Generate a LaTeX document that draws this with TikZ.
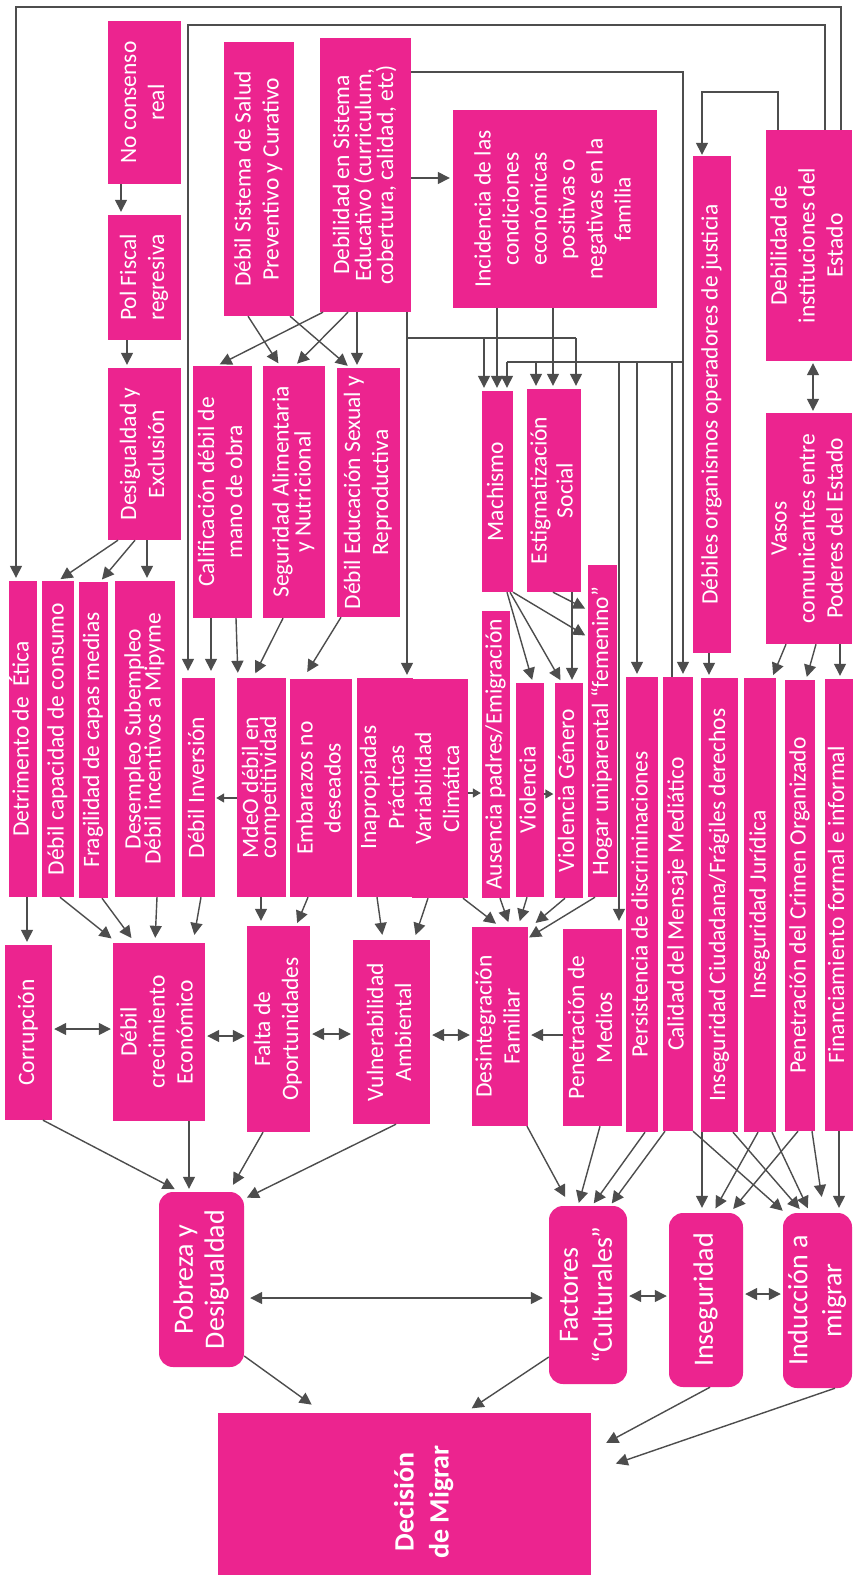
\documentclass[tikz,border=0pt]{standalone}
\usepackage{fontspec}
\usepackage{graphicx}
\setmainfont{Carlito}
\usetikzlibrary{arrows.meta}
\definecolor{pk}{RGB}{236,36,143}
\definecolor{lnc}{RGB}{77,77,77}
\newcommand\BX[7][]{\node[box,minimum width={(#5-#3)*1pt},minimum height={(#6-#4)*1pt},#1] (#2) at ({(#3+#5)/2},{(#4+#6)/2}) {\rotatebox{90}{\begin{tabular}{@{}c@{}}#7\end{tabular}}};}
\begin{document}
\begin{tikzpicture}[x=1pt,y=-1pt,
 box/.style={rectangle,fill=pk,inner sep=0pt,text=white,font=\fontsize{23.5}{28}\selectfont},
 rbox/.style={rounded corners=14pt,font=\fontsize{28}{34}\selectfont},
 arr/.style={draw=lnc,line width=1.4pt,shorten >=3pt,-{Triangle[length=12pt,width=12pt]}},
 sarr/.style={draw=lnc,line width=1.4pt,shorten >=1pt,-{Triangle[length=8pt,width=9pt]}},
 darr/.style={draw=lnc,line width=1.4pt,shorten >=2pt,shorten <=2pt,{Triangle[length=12pt,width=12pt]}-{Triangle[length=12pt,width=12pt]}},
 plain/.style={draw=lnc,line width=1.4pt}]
\fill[white] (0,0) rectangle (855,1575);
\useasboundingbox (0,0) rectangle (855,1575);
% boxes
\BX{nocons}{108}{21}{181}{184}{No consenso\\real}
\BX{polfis}{108}{215}{181}{340}{Pol Fiscal\\regresiva}
\BX{desig}{108}{368}{181}{540}{Desigualdad y\\Exclusión}
\BX{salud}{224}{42}{294}{316}{Débil Sistema de Salud\\Preventivo y Curativo}
\BX{educ}{320}{38}{411}{312}{Debilidad en Sistema\\[-6pt]Educativo (curriculum,\\[-6pt]cobertura, calidad, etc)}
\BX{incid}{453}{110}{657}{308}{Incidencia de las\\condiciones\\económicas\\positivas o\\negativas en la\\familia}
\BX{debinst}{766}{130}{852}{361}{Debilidad de\\instituciones del\\Estado}
\BX{debjust}{693}{156}{731}{653}{Débiles organismos operadores de justicia}
\BX{vasos}{766}{413}{852}{644}{Vasos\\comunicantes entre\\Poderes del Estado}
\BX{calif}{193}{366}{252}{618}{Calificación débil de\\mano de obra}
\BX{segal}{263}{366}{325}{618}{Seguridad Alimentaria\\[-6pt]y Nutricional}
\BX{edsex}{337}{368}{400}{617}{Débil Educación Sexual y\\Reproductiva}
\BX{mach}{482}{391}{513}{592}{Machismo}
\BX{estig}{529}{389}{579}{592}{Estigmatización\\[-2pt]Social}
\BX{detr}{9}{581}{37}{897}{Detrimento de\ \ Ética}
\BX{capcons}{42}{581}{74}{897}{Débil capacidad de consumo}
\BX{frag}{79}{582}{108}{898}{Fragilidad de capas medias}
\BX{desemp}{115}{581}{175}{897}{Desempleo Subempleo\\[-8pt]Débil incentivos a Mipyme}
\BX{inver}{182}{678}{215}{897}{Débil Inversión}
\BX{mdeo}{237}{678}{286}{897}{MdeO débil en\\[-10pt]competitividad}
\BX{embar}{290}{679}{352}{897}{Embarazos no\\deseados}
\BX{inap}{357}{678}{412}{897}{Inapropiadas\\Prácticas}
\BX{varcl}{414}{679}{465}{898}{Variabilidad\\Climática}
\BX{ausen}{482}{611}{510}{898}{Ausencia padres/Emigración}
\BX{viol}{517}{683}{543}{897}{Violencia}
\BX{violg}{556}{683}{581}{898}{Violencia Género}
\BX{hogar}{588}{565}{617}{897}{Hogar uniparental “femenino”}
\BX{persis}{626}{677}{658}{1132}{Persistencia de discriminaciones}
\BX{calid}{663}{677}{693}{1131}{Calidad del Mensaje Mediático}
\BX{insciu}{701}{678}{738}{1132}{Inseguridad Ciudadana/Frágiles derechos}
\BX{insjur}{744}{678}{776}{1132}{Inseguridad Jurídica}
\BX{crimen}{785}{680}{815}{1131}{Penetración del Crimen Organizado}
\BX{financ}{825}{679}{852}{1131}{Financiamiento formal e informal}
\BX{corrup}{5}{945}{52}{1120}{Corrupción}
\BX{debcrec}{113}{943}{205}{1121}{Débil\\crecimiento\\Económico}
\BX{falta}{247}{926}{310}{1132}{Falta de\\Oportunidades}
\BX{vuln}{353}{940}{430}{1124}{Vulnerabilidad\\Ambiental}
\BX{desint}{473}{927}{527}{1126}{Desintegración\\Familiar}
\BX{penmed}{563}{929}{622}{1126}{Penetración de\\Medios}
\BX[rbox]{pobreza}{159}{1192}{244}{1367}{Pobreza y\\[-3pt]Desigualdad}
\BX[rbox]{factores}{549}{1206}{627}{1384}{Factores\\“Culturales”}
\BX[rbox]{inseg}{669}{1213}{743}{1387}{Inseguridad}
\BX[rbox]{induc}{783}{1213}{852}{1388}{Inducción a\\migrar}
\BX{decis}{218}{1413}{591}{1575}{}
\node[text=white,inner sep=0pt,font=\fontsize{28}{35}\selectfont\bfseries] (dectxt) at (424,1502) {\rotatebox{90}{\begin{tabular}{@{}c@{}}Decisión\\de Migrar\end{tabular}}};
% long lines from the top
\draw[arr] (debinst.north -| 841,0) -- (841,7) -- (16,7) -- (detr.north -| 16,0);
\draw[arr,shorten >=7pt] (debinst.north -| 825,0) -- (825,25) -- (188,25) -- (inver.north -| 188,0);
\draw[arr,shorten >=1pt] (debinst.north -| 778,0) -- (778,92) -- (702,92) -- (debjust.north -| 702,0);
\draw[darr] (debinst.south -| 813,0) -- (vasos.north -| 813,0);
\draw[arr] (debjust.south -| 709,0) -- (insciu.north -| 709,0);
\draw[arr] (vasos.south -| 786,0) -- (insjur.north -| 772,0);
\draw[arr] (vasos.south -| 816,0) -- (crimen.north -| 806,0);
\draw[arr] (vasos.south -| 840,0) -- (financ.north -| 840,0);
% education system
\draw[arr] (educ.east |- 0,178) -- (incid.west |- 0,178);
\draw[arr] (educ.east |- 0,72) -- (683,72) -- (calid.north -| 683,0);
\coordinate (b1) at (683,362);
\draw[plain] (b1) -- (b1 -| 507,0);
\draw[arr] (b1 -| 507,0) -- (mach.north -| 507,0);
\draw[arr] (b1 -| 536,0) -- (estig.north -| 536,0);
\draw[arr,shorten >=8pt] (b1 -| 619,0) -- (penmed.north -| 619,0);
\draw[arr] (b1 -| 637,0) -- (persis.north -| 637,0);
\draw[plain] (b1 -| 672,0) -- (calid.north -| 672,0);
\coordinate (b2) at (407,338);
\draw[arr] (educ.south -| 407,0) -- (inap.north -| 407,0);
\draw[plain] (b2) -- (b2 -| 576,0);
\draw[arr] (b2 -| 484,0) -- (mach.north -| 484,0);
\draw[arr] (b2 -| 576,0) -- (estig.north -| 576,0);
\draw[arr] (incid.south -| 497,0) -- (mach.north -| 497,0);
\draw[arr] (incid.south -| 553,0) -- (estig.north -| 553,0);
% upper left
\draw[arr] (nocons.south -| 121,0) -- (polfis.north -| 121,0);
\draw[arr] (polfis.south -| 127,0) -- (desig.north -| 127,0);
\draw[arr] (salud.south -| 248,0) -- (segal.north -| 280,0);
\draw[arr] (salud.south -| 290,0) -- (edsex.north -| 350,0);
\draw[arr] (educ.south -| 323,0) -- (calif.north -| 217,0);
\draw[arr] (educ.south -| 348,0) -- (segal.north -| 295,0);
\draw[arr] (educ.south -| 357,0) -- (edsex.north -| 357,0);
\draw[arr] (desig.south -| 118,0) -- (capcons.north -| 58,0);
\draw[arr] (desig.south -| 135,0) -- (frag.north -| 100,0);
\draw[arr] (desig.south -| 147,0) -- (desemp.north -| 147,0);
\draw[arr,shorten >=7pt] (calif.south -| 211,0) -- (inver.north -| 211,0);
\draw[arr,shorten >=5pt] (calif.south -| 236,0) -- (mdeo.north -| 238,0);
\draw[arr,shorten >=5pt] (segal.south -| 283,0) -- (mdeo.north -| 253,0);
\draw[arr,shorten >=8pt] (edsex.south -| 341,0) -- (embar.north -| 303,0);
\draw[sarr] (mdeo.west |- 0,798) -- (inver.east |- 0,798);
\draw[sarr] (varcl.east |- 0,793) -- (ausen.west |- 0,793);
\draw[sarr] (viol.east |- 0,794) -- (violg.west |- 0,794);
% machismo / estigmatizacion
\draw[arr] (mach.south -| 507,0) -- (viol.north -| 533,0);
\draw[arr] (mach.south -| 510,0) -- (violg.north -| 562,0);
\draw[arr] (mach.south -| 513,0) -- (hogar.west |- 0,637);
\draw[arr] (estig.south -| 553,0) -- (hogar.west |- 0,610);
\draw[arr] (estig.south -| 572,0) -- (violg.north -| 572,0);
% to the middle row
\draw[arr] (detr.south -| 27,0) -- (corrup.north -| 27,0);
\draw[arr,shorten >=7pt] (capcons.south -| 60,0) -- (debcrec.north -| 117,0);
\draw[arr,shorten >=6pt] (frag.south -| 102,0) -- (debcrec.north -| 135,0);
\draw[arr,shorten >=5pt] (desemp.south -| 157,0) -- (debcrec.north -| 155,0);
\draw[arr,shorten >=8pt] (inver.south -| 201,0) -- (debcrec.north -| 193,0);
\draw[arr,shorten >=5pt] (mdeo.south -| 261,0) -- (falta.north -| 261,0);
\draw[arr] (embar.south -| 308,0) -- (falta.north -| 296,0);
\draw[arr,shorten >=5pt] (inap.south -| 377,0) -- (vuln.north -| 383,0);
\draw[arr,shorten >=5pt] (varcl.south -| 428,0) -- (vuln.north -| 414,0);
\draw[arr,shorten >=5pt] (varcl.south -| 463,0) -- (desint.north -| 500,0);
\draw[arr,shorten >=5pt] (ausen.south -| 500,0) -- (desint.north -| 510,0);
\draw[arr,shorten >=6pt] (viol.south -| 527,0) -- (desint.north -| 518,0);
\draw[arr,shorten >=6pt] (violg.south -| 565,0) -- (desint.north -| 531,0);
\draw[arr,shorten >=1pt] (hogar.south -| 595,0) -- (desint.east |- 0,938);
\draw[darr] (corrup.east |- 0,1029) -- (debcrec.west |- 0,1029);
\draw[darr] (debcrec.east |- 0,1036) -- (falta.west |- 0,1036);
\draw[darr] (falta.east |- 0,1034) -- (vuln.west |- 0,1034);
\draw[darr] (vuln.east |- 0,1035) -- (desint.west |- 0,1035);
\draw[arr] (penmed.west |- 0,1035) -- (desint.east |- 0,1035);
% to the bottom row
\draw[arr,shorten >=6pt] (corrup.south -| 43,0) -- (pobreza.north -| 180,0);
\draw[arr] (debcrec.south -| 189,0) -- (pobreza.north -| 189,0);
\draw[arr,shorten >=8pt] (falta.south -| 263,0) -- (pobreza.north -| 229,0);
\draw[arr] (vuln.south -| 396,0) -- (pobreza.east |- 0,1199);
\draw[arr,shorten >=10pt] (desint.south -| 527,0) -- (factores.north -| 570,0);
\draw[arr] (penmed.south -| 600,0) -- (factores.north -| 578,0);
\draw[arr] (persis.south -| 645,0) -- (factores.north -| 592,0);
\draw[arr] (calid.south -| 665,0) -- (factores.north -| 610,0);
\draw[arr,shorten >=5pt] (insciu.south -| 702,0) -- (inseg.north -| 702,0);
\draw[arr,shorten >=5pt] (insjur.south -| 758,0) -- (inseg.north -| 713,0);
\draw[arr,shorten >=5pt] (crimen.south -| 798,0) -- (inseg.north -| 730,0);
\draw[arr] (calid.south -| 693,0) -- (induc.north -| 785,0);
\draw[arr,shorten >=5pt] (insciu.south -| 733,0) -- (induc.north -| 803,0);
\draw[arr,shorten >=5pt] (insjur.south -| 772,0) -- (induc.north -| 810,0);
\draw[arr,shorten >=16pt] (crimen.south -| 812,0) -- (induc.north -| 824,0);
\draw[arr,shorten >=5pt] (financ.south -| 839,0) -- (induc.north -| 839,0);
\draw[darr,shorten <=6pt,shorten >=6pt] (pobreza.east |- 0,1298) -- (factores.west |- 0,1298);
\draw[darr] (factores.east |- 0,1296) -- (inseg.west |- 0,1296);
\draw[darr] (inseg.east |- 0,1294) -- (induc.west |- 0,1294);
% to the decision
\draw[arr,shorten >=14pt] (pobreza.east |- 0,1356) -- (decis.north -| 323,0);
\draw[arr,shorten >=8pt] (factores.west |- 0,1357) -- (decis.north -| 465,0);
\draw[arr,shorten >=17pt] (inseg.south -| 710,0) -- (decis.east |- 0,1451);
\draw[arr,shorten >=26pt] (induc.south -| 835,0) -- (decis.east |- 0,1472);
\end{tikzpicture}
\end{document}
